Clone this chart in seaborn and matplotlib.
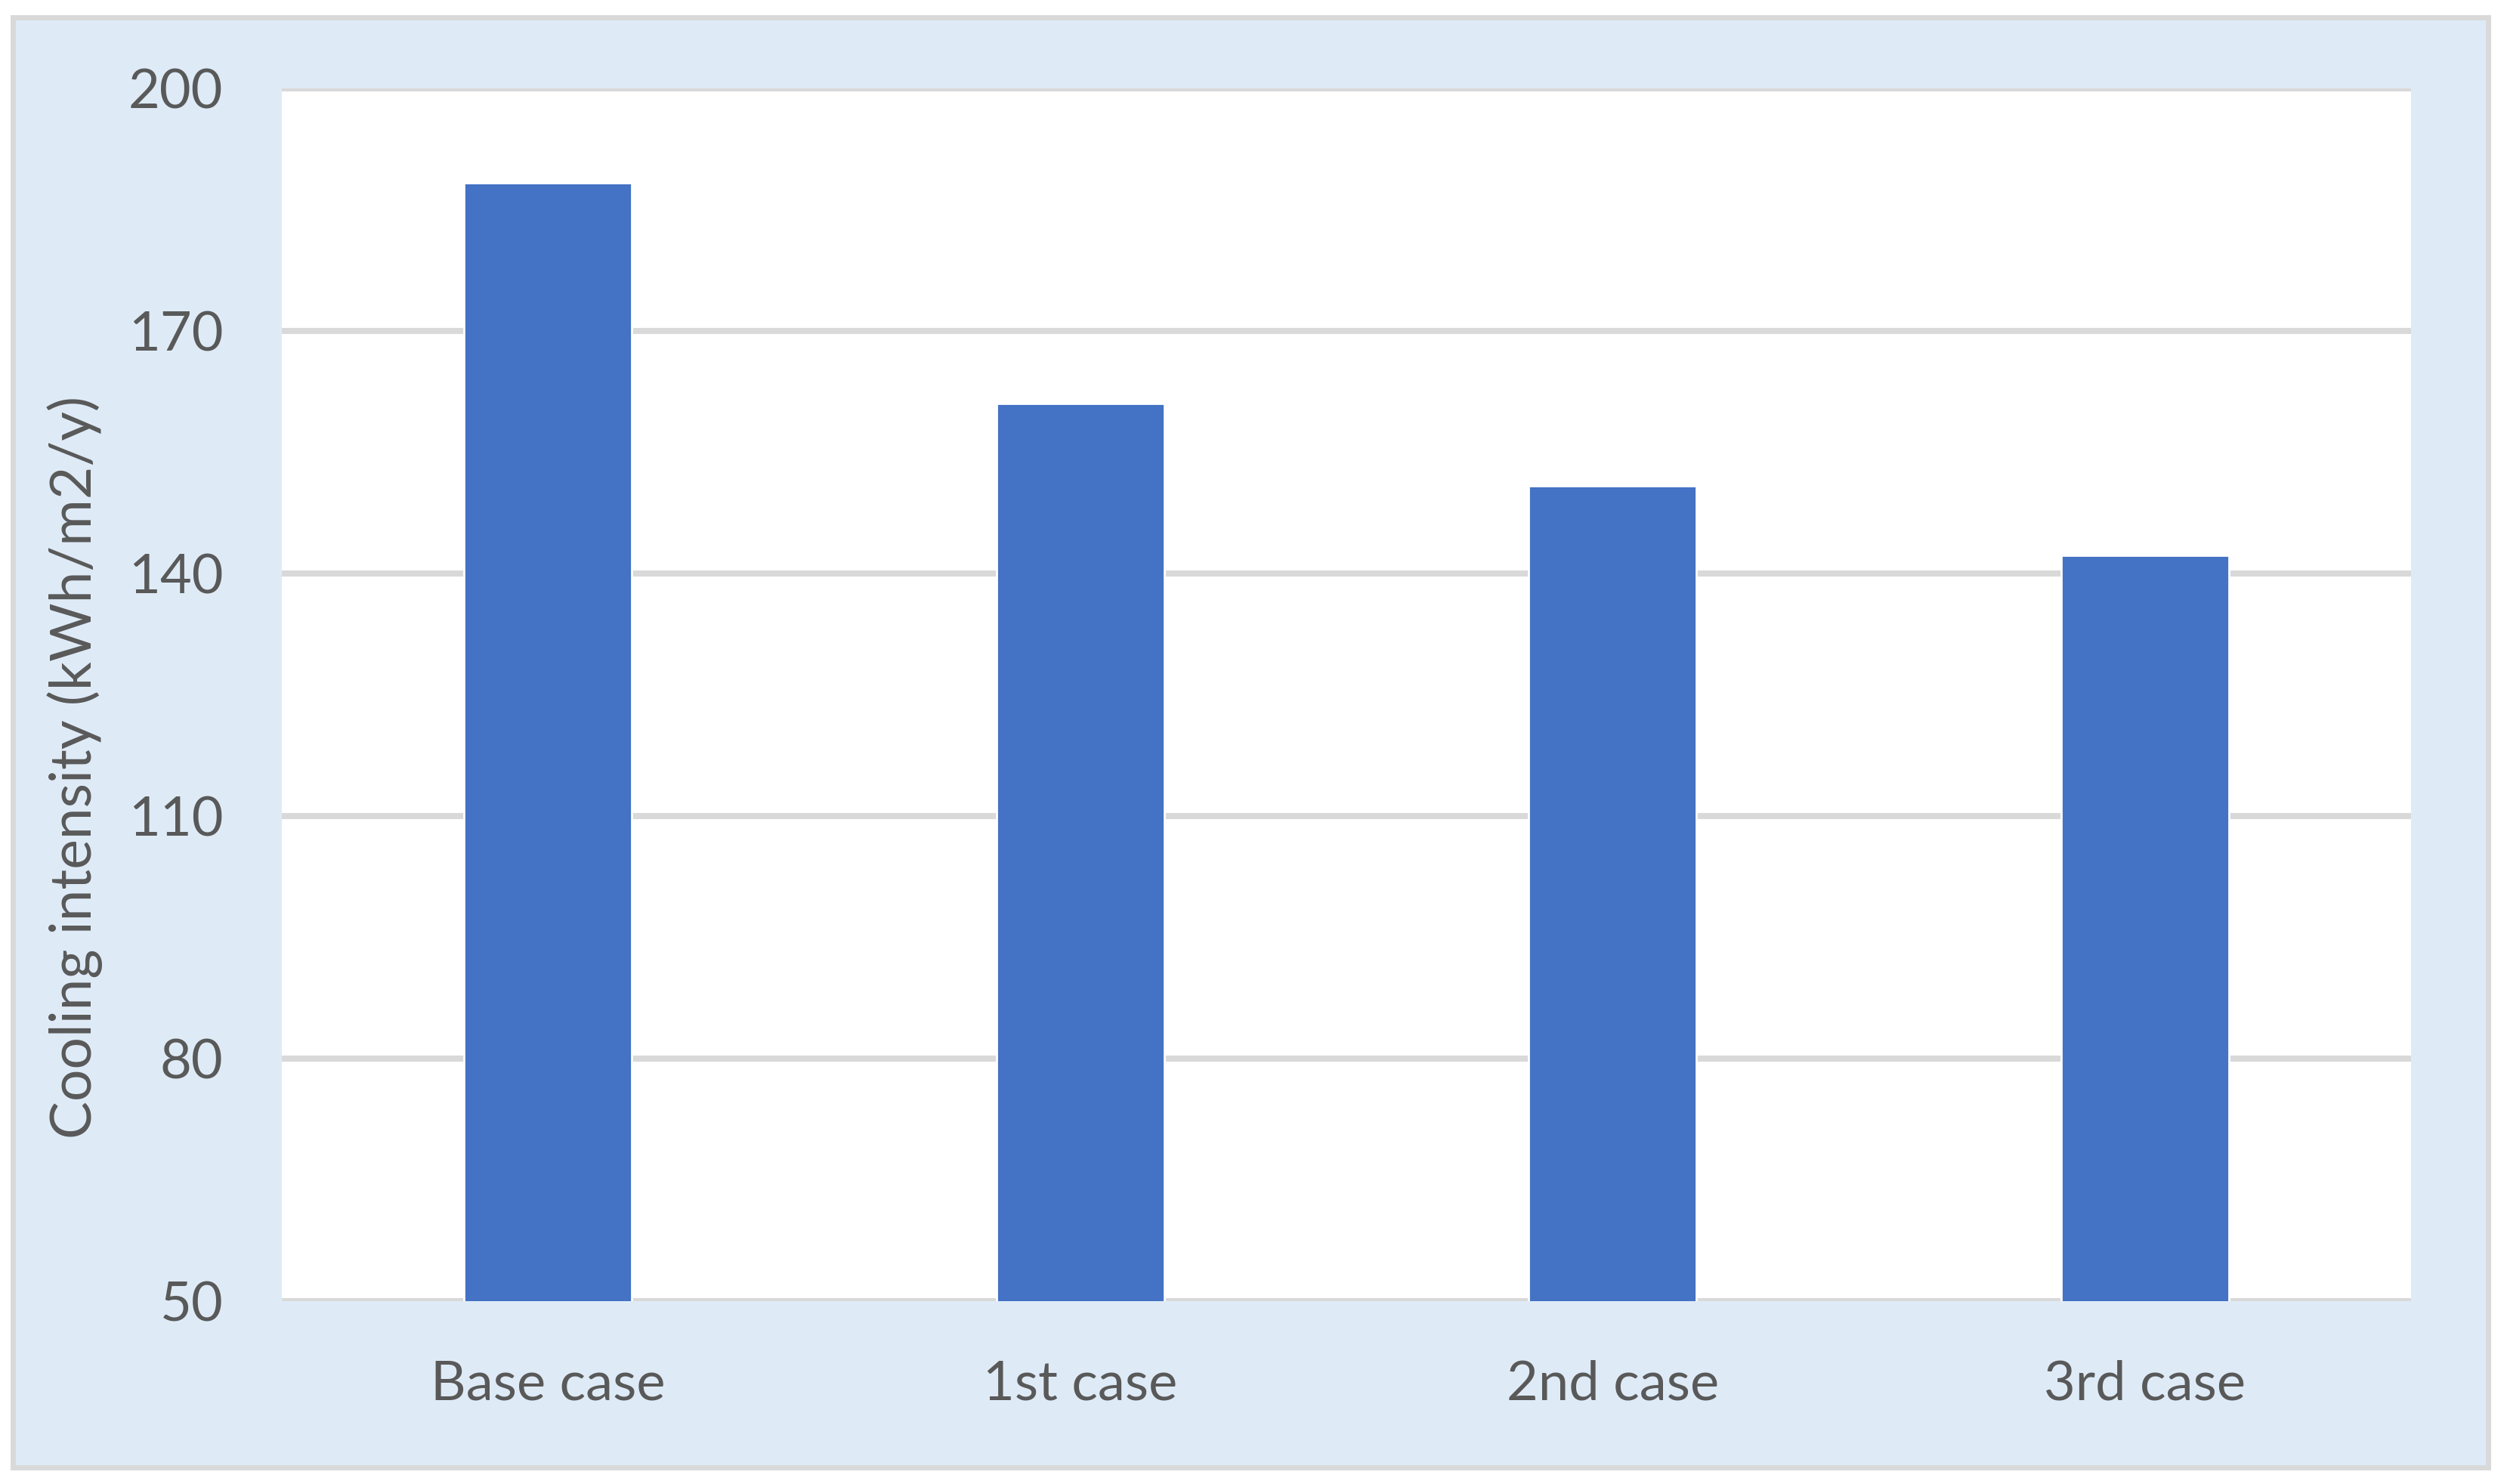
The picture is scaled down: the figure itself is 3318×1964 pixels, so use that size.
import matplotlib
matplotlib.use("Agg")
import matplotlib.pyplot as plt
import seaborn as sns
import pandas as pd
from matplotlib.patches import Rectangle

# values
cases = ['Base case', '1st case', '2nd case', '3rd case']
cooling = [188.3, 161.0, 150.8, 142.2]
yticks = [50, 80, 110, 140, 170, 200]

df = pd.DataFrame({'Case': cases, 'Cooling': cooling})

W, H, DPI = 3318, 1964, 200
sns.set_style("white")
plt.rcParams['font.family'] = ['Lato', 'DejaVu Sans']

fig = plt.figure(figsize=(W / DPI, H / DPI), dpi=DPI, facecolor='white')

# light blue chart area with grey border (behind the axes)
frame = Rectangle((17 / W, 1 - 1942 / H), (3293 - 17) / W, (1942 - 23) / H,
                  transform=fig.transFigure, facecolor='#DEEBF7',
                  edgecolor='#D9D9D9', linewidth=2.5, zorder=-1)
fig.patches.append(frame)

ax = fig.add_axes([373 / W, 1 - 1722 / H, (3191 - 373) / W, (1722 - 117) / H])
ax.set_facecolor('white')

sns.barplot(data=df, x='Case', y='Cooling', color='#4472C4', width=0.315,
            saturation=1, ax=ax, zorder=3)

ax.set_ylim(50, 200)
ax.set_yticks(yticks)
ax.grid(axis='y', color='#D9D9D9', linewidth=2.9, zorder=0)
ax.set_axisbelow(True)
for s in ax.spines.values():
    s.set_visible(False)

ax.tick_params(axis='y', length=0, pad=28, labelsize=26, labelcolor='#595959')
ax.tick_params(axis='x', length=0, pad=28, labelsize=26, labelcolor='#595959')
ax.set_xlabel('')
ax.set_ylabel('Cooling intensity (kWh/m2/y)', fontsize=27, color='#595959')
ax.yaxis.set_label_coords(-0.084, 0.44)

fig.savefig('out.png', dpi=DPI, facecolor='white')
